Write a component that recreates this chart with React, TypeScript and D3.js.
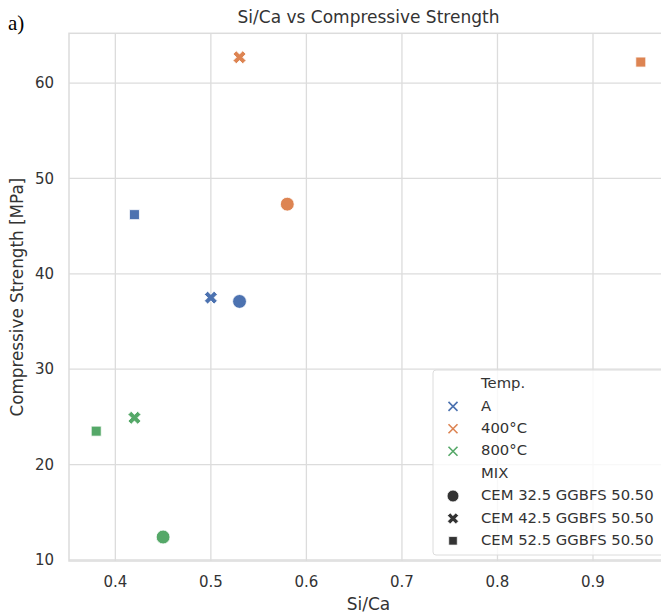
import React from 'react';
import * as d3 from 'd3';

// categories
const temps = ['A', '400°C', '800°C'];
const mixes = ['CEM 32.5 GGBFS 50.50', 'CEM 42.5 GGBFS 50.50', 'CEM 52.5 GGBFS 50.50'];
const tempColors = ['#4C72B0', '#DD8452', '#55A868'];

// points
const pointTemp = ['A', 'A', 'A', '400°C', '400°C', '400°C', '800°C', '800°C', '800°C'];
const pointMix = [
  'CEM 32.5 GGBFS 50.50', 'CEM 42.5 GGBFS 50.50', 'CEM 52.5 GGBFS 50.50',
  'CEM 32.5 GGBFS 50.50', 'CEM 42.5 GGBFS 50.50', 'CEM 52.5 GGBFS 50.50',
  'CEM 32.5 GGBFS 50.50', 'CEM 42.5 GGBFS 50.50', 'CEM 52.5 GGBFS 50.50',
];
const siCa = [0.53, 0.5, 0.42, 0.58, 0.53, 0.95, 0.45, 0.42, 0.38];
const strength = [37.1, 37.5, 46.2, 47.3, 62.7, 62.2, 12.4, 24.9, 23.5];

const xTicks = [0.4, 0.5, 0.6, 0.7, 0.8, 0.9];
const yTicks = [10, 20, 30, 40, 50, 60];

const W = 661;
const H = 615;
const margin = { left: 69, top: 33.3, right: 668, bottom: 561 };
const FONT = '"DejaVu Sans", sans-serif';
const TEXT = '#333';
const GRID = '#dcdcdc';

// matplotlib-like axis padding (5%)
const pad = (ext: [number, number]) => {
  const d = (ext[1] - ext[0]) * 0.05;
  return [ext[0] - d, ext[1] + d];
};

const x = d3.scaleLinear()
  .domain(pad(d3.extent(siCa) as [number, number]))
  .range([margin.left, margin.right]);
const y = d3.scaleLinear()
  .domain(pad(d3.extent(strength) as [number, number]))
  .range([margin.bottom, margin.top]);

const colorScale = d3.scaleOrdinal<string, string>().domain(temps).range(tempColors);

// filled X = cross rotated 45deg
const shapes: Record<string, { path: string; rotate: number }> = {
  [mixes[0]]: { path: d3.symbol(d3.symbolCircle, 150)() || '', rotate: 0 },
  [mixes[1]]: { path: d3.symbol(d3.symbolCross, 105)() || '', rotate: 45 },
  [mixes[2]]: { path: d3.symbol(d3.symbolSquare, 100)() || '', rotate: 0 },
};

const Marker = ({ mix, cx, cy, fill, scale = 1 }: { mix: string; cx: number; cy: number; fill: string; scale?: number }) => {
  const s = shapes[mix];
  return (
    <path
      d={s.path}
      transform={`translate(${cx},${cy}) rotate(${s.rotate}) scale(${scale})`}
      fill={fill}
      stroke="#fff"
      strokeWidth={0.8}
    />
  );
};

const Legend = () => {
  const left = 433;
  const top = 370;
  const rowH = 22.4;
  const firstY = 383;
  const textX = 481;
  const markX = 453;
  const rows: { label: string; kind: 'title' | 'temp' | 'mix'; key: string }[] = [
    { label: 'Temp.', kind: 'title', key: 't' },
    ...temps.map(t => ({ label: t, kind: 'temp' as const, key: t })),
    { label: 'MIX', kind: 'title', key: 'm' },
    ...mixes.map(m => ({ label: m, kind: 'mix' as const, key: m })),
  ];
  return (
    <g>
      <rect x={left} y={top} width={232} height={185} rx={3} fill="#fff" fillOpacity={0.8} stroke={GRID} strokeWidth={1} />
      {rows.map((r, i) => {
        const cy = firstY + i * rowH;
        return (
          <g key={r.key}>
            {r.kind === 'temp' && (
              <path
                d="M-4.5,-4.5L4.5,4.5M-4.5,4.5L4.5,-4.5"
                transform={`translate(${markX},${cy + 1})`}
                stroke={colorScale(r.label)}
                strokeWidth={1.6}
                fill="none"
              />
            )}
            {r.kind === 'mix' && <Marker mix={r.label} cx={markX} cy={cy + 1} fill="#333" scale={0.85} />}
            <text x={textX} y={cy} dy="0.35em" fontSize={14.8} fill={TEXT} fontFamily={FONT}>{r.label}</text>
          </g>
        );
      })}
    </g>
  );
};

export default function App() {
  return (
    <svg width={W} height={H} style={{ position: 'absolute', left: 0, top: 0, background: '#fff' }}>
      <rect width={W} height={H} fill="#fff" />
      <text x={8} y={30} fontFamily='"Liberation Serif", "Times New Roman", serif' fontSize={21} fill="#000">a)</text>

      {/* grid */}
      {xTicks.map(t => (
        <line key={`gx${t}`} x1={x(t)} x2={x(t)} y1={margin.top} y2={margin.bottom} stroke={GRID} strokeWidth={1.3} />
      ))}
      {yTicks.map(t => (
        <line key={`gy${t}`} x1={margin.left} x2={margin.right} y1={y(t)} y2={y(t)} stroke={GRID} strokeWidth={1.3} />
      ))}
      {/* frame */}
      <rect x={margin.left} y={margin.top} width={margin.right - margin.left} height={margin.bottom - margin.top}
        fill="none" stroke={GRID} strokeWidth={1.5} />

      {/* tick labels */}
      {xTicks.map(t => (
        <text key={`tx${t}`} x={x(t)} y={margin.bottom + 21} dy="0.35em" textAnchor="middle"
          fontSize={15} fill={TEXT} fontFamily={FONT}>{d3.format('.1f')(t)}</text>
      ))}
      {yTicks.map(t => (
        <text key={`ty${t}`} x={margin.left - 15} y={y(t)} dy="0.35em" textAnchor="end"
          fontSize={15} fill={TEXT} fontFamily={FONT}>{t}</text>
      ))}

      {/* axis labels and title */}
      <text x={(margin.left + margin.right) / 2} y={604} textAnchor="middle" fontSize={17} fill={TEXT} fontFamily={FONT} dy="0.35em">Si/Ca</text>
      <text transform={`translate(17,${(margin.top + margin.bottom) / 2}) rotate(-90)`} textAnchor="middle" dy="0.35em"
        fontSize={16.8} fill={TEXT} fontFamily={FONT}>Compressive Strength [MPa]</text>
      <text x={(margin.left + margin.right) / 2} y={17} dy="0.35em" textAnchor="middle" fontSize={17} fill={TEXT} fontFamily={FONT}>
        Si/Ca vs Compressive Strength
      </text>

      {/* points */}
      {siCa.map((v, i) => (
        <Marker key={i} mix={pointMix[i]} cx={x(v)} cy={y(strength[i])} fill={colorScale(pointTemp[i])} />
      ))}

      <Legend />
    </svg>
  );
}
